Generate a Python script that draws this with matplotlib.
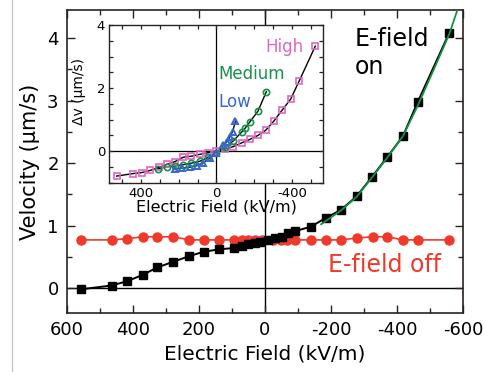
import matplotlib
matplotlib.use("Agg")
import matplotlib.pyplot as plt
from matplotlib.lines import Line2D
from matplotlib.ticker import MultipleLocator

plt.rcParams["axes.unicode_minus"] = False

# main panel: E-field on (black squares)
on_x = [557, 465, 417, 371, 326, 278, 230, 186, 138, 93, 71, 51, 30, 15,
        -10, -30, -50, -71, -91, -138, -184, -230, -278, -323, -371, -418, -463, -558]
on_y = [-0.02, 0.04, 0.11, 0.21, 0.33, 0.42, 0.51, 0.58, 0.62, 0.64, 0.68, 0.70, 0.72, 0.73,
        0.77, 0.80, 0.82, 0.88, 0.91, 0.98, 1.12, 1.25, 1.47, 1.77, 2.10, 2.43, 2.98, 4.08]

# green fit curve on the negative side
fit_x = [-170, -230, -278, -323, -371, -418, -463, -510, -558, -583]
fit_y = [1.02, 1.24, 1.46, 1.76, 2.09, 2.43, 2.92, 3.48, 4.06, 4.45]

# E-field off (red circles)
off_x = [557, 465, 417, 371, 326, 278, 230, 186, 138, 93, 71, 51, 30, 10,
         -23, -48, -68, -91, -138, -184, -230, -278, -326, -371, -417, -465, -558]
off_y = [0.77, 0.77, 0.79, 0.82, 0.82, 0.82, 0.77, 0.77, 0.77, 0.77, 0.77, 0.77, 0.77, 0.77,
         0.77, 0.77, 0.77, 0.77, 0.77, 0.77, 0.77, 0.80, 0.82, 0.82, 0.77, 0.77, 0.77]

# inset: delta v for three field strengths
high_x = [526, 439, 395, 349, 302, 262, 219, 174, 132, 88, 45, 0, -45, -87,
          -132, -175, -219, -259, -302, -345, -391, -435, -521]
high_y = [-0.79, -0.71, -0.68, -0.61, -0.51, -0.42, -0.33, -0.19, -0.16, -0.10, -0.05, 0.0, 0.07, 0.14,
          0.26, 0.37, 0.50, 0.66, 0.95, 1.29, 1.65, 2.21, 3.33]
med_x = [307, 263, 220, 176, 132, 88, 45, 0, -45, -88, -132, -150, -175, -219, -263]
med_y = [-0.56, -0.50, -0.47, -0.43, -0.38, -0.32, -0.20, -0.05, 0.12, 0.32, 0.60, 0.72, 0.92, 1.27, 1.89]
low_x = [219, 184, 141, 105, 70, 35, 0, -35, -55, -70, -85, -100]
low_y = [-0.56, -0.54, -0.51, -0.46, -0.37, -0.22, -0.05, 0.18, 0.30, 0.45, 0.62, 0.95]

RED = "#f0392a"
GREEN = "#13924a"
PINK = "#e066c0"
BLUE = "#3467d0"
FRAME = "#2a2220"

fig = plt.figure(figsize=(4.84, 3.72), dpi=100)
fig.add_artist(Line2D([12 / 484, 12 / 484], [0, 1], color="#c8c8c8", lw=1))

ax = fig.add_axes([67 / 484, 1 - 313 / 372, 396 / 484, 303 / 372])
ax.axhline(0, color="black", lw=1, zorder=1)
ax.axvline(0, color="black", lw=1, zorder=1)
ax.plot(off_x, off_y, "-o", color=RED, ms=6.5, lw=1.2, zorder=2)
ax.plot(on_x, on_y, "-s", color="black", ms=5.5, lw=1.4, zorder=3)
ax.plot(fit_x, fit_y, "-", color=GREEN, lw=1.3, zorder=4)

ax.set_xlim(600, -600)
ax.set_ylim(-0.4, 4.45)
ax.xaxis.set_major_locator(MultipleLocator(200))
ax.xaxis.set_minor_locator(MultipleLocator(100))
ax.yaxis.set_major_locator(MultipleLocator(1))
ax.yaxis.set_minor_locator(MultipleLocator(0.5))
ax.tick_params(which="both", direction="in", top=True, right=True, labelsize=13,
               color=FRAME, width=1)
ax.tick_params(which="major", length=6, pad=6)
ax.tick_params(which="minor", length=3.5)
for s in ax.spines.values():
    s.set_color(FRAME)
    s.set_linewidth(1.2)
ax.set_xlabel("Electric Field (kV/m)", fontsize=14.5, labelpad=4)
ax.set_ylabel("Velocity (μm/s)", fontsize=15, labelpad=5)

ax.text((355 - 67) / 396, (313 - 53) / 303, "E-field\non", transform=ax.transAxes,
        fontsize=17, va="center", ha="left", linespacing=1.2)
ax.text((328 - 67) / 396, (313 - 265) / 303, "E-field off", transform=ax.transAxes,
        fontsize=17, color=RED, va="center", ha="left")

ins = fig.add_axes([109.3 / 484, 1 - 182.7 / 372, 213.4 / 484, 157.7 / 372])
ins.axhline(0, color="black", lw=0.9, zorder=1)
ins.axvline(0, color="black", lw=0.9, zorder=1)
ins.plot(high_x, high_y, "-", color="black", lw=1.0, zorder=2)
ins.plot(high_x, high_y, "s", mfc="none", mec=PINK, mew=1.2, ms=4, zorder=3)
ins.plot(med_x, med_y, "-", color="black", lw=1.0, zorder=2)
ins.plot(med_x, med_y, "o", mfc="none", mec=GREEN, mew=1.2, ms=4.5, zorder=4)
ins.plot(low_x, low_y, "-", color="black", lw=1.0, zorder=2)
ins.plot(low_x, low_y, "^", mfc="none", mec=BLUE, mew=1.4, ms=4.5, zorder=5)
ins.set_xlim(565, -560)
ins.set_ylim(-1, 4)
ins.xaxis.set_major_locator(MultipleLocator(400))
ins.xaxis.set_minor_locator(MultipleLocator(100))
ins.yaxis.set_major_locator(MultipleLocator(2))
ins.yaxis.set_minor_locator(MultipleLocator(0.5))
ins.tick_params(which="both", direction="in", top=True, right=True, labelsize=9.5,
                color=FRAME, width=0.9, length=3, pad=3)
for s in ins.spines.values():
    s.set_color(FRAME)
    s.set_linewidth(1.0)
ins.set_xlabel("Electric Field (kV/m)", fontsize=11.5, labelpad=0)
ins.set_ylabel("Δv (μm/s)", fontsize=10)
ins.yaxis.set_label_coords(-0.108, 0.58)
ins.text(0.73, 0.86, "High", transform=ins.transAxes, fontsize=12, color=PINK, va="center")
ins.text(0.51, 0.69, "Medium", transform=ins.transAxes, fontsize=12, color=GREEN, va="center")
ins.text(0.51, 0.51, "Low", transform=ins.transAxes, fontsize=12, color=BLUE, va="center")

fig.savefig("out.png", dpi=100)
